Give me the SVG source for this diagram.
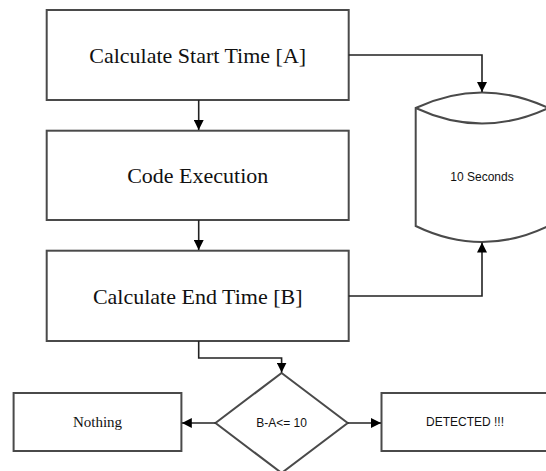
<svg xmlns="http://www.w3.org/2000/svg" width="546" height="471" viewBox="0 0 546 471">
<defs>
<marker id="arr" viewBox="0 0 10 10" refX="10" refY="5" markerWidth="10" markerHeight="10" markerUnits="userSpaceOnUse" orient="auto">
<path d="M0,0 L10,5 L0,10 Z" fill="#000"/>
</marker>
</defs>
<style>
.box{fill:#fff;stroke:#4a4a4a;stroke-width:2}
.big{font-family:"Liberation Serif",serif;font-size:22px;fill:#111;text-anchor:middle;dominant-baseline:central}
.ser{font-family:"Liberation Serif",serif;font-size:15px;fill:#111;text-anchor:middle;dominant-baseline:central}
.sm{font-family:"Liberation Sans",sans-serif;font-size:12px;fill:#111;text-anchor:middle;dominant-baseline:central}
.con{fill:none;stroke:#222;stroke-width:1.6;marker-end:url(#arr)}
</style>
<rect width="546" height="471" fill="#fff"/>
<g id="start">
<rect class="box" x="46.7" y="10" width="302" height="90"/>
<text class="big" x="197.7" y="55">Calculate Start Time [A]</text>
</g>
<g id="exec">
<rect class="box" x="46.7" y="130.7" width="302" height="89.3"/>
<text class="big" x="197.7" y="175">Code Execution</text>
</g>
<g id="end">
<rect class="box" x="46.7" y="250.7" width="302" height="90.3"/>
<text class="big" x="197.7" y="296">Calculate End Time [B]</text>
</g>
<g id="store">
<path class="box" d="M415.7,108 Q482,77 548.3,108 L548.3,226 Q482,258 415.7,226 Z"/>
<path fill="none" stroke="#4a4a4a" stroke-width="2" d="M415.7,108 Q482,139 548.3,108"/>
<text class="sm" x="482" y="177">10 Seconds</text>
</g>
<g id="decision">
<polygon class="box" points="281.6,373 347.7,423 281.6,473 215.5,423"/>
<text class="sm" x="281.6" y="423">B-A&lt;= 10</text>
</g>
<g id="nothing">
<rect class="box" x="13.6" y="393" width="167.8" height="58"/>
<text class="ser" x="97.5" y="422">Nothing</text>
</g>
<g id="detected">
<rect class="box" x="381.5" y="393" width="170" height="58"/>
<text class="sm" x="465" y="422">DETECTED !!!</text>
</g>
<g id="connectors">
<path class="con" d="M198.7,100 L198.7,130"/>
<path class="con" d="M198.7,220 L198.7,250"/>
<path class="con" d="M348.7,55 L482,55 L482,92"/>
<path class="con" d="M348.7,296 L482,296 L482,242.5"/>
<path class="con" d="M198.7,341 L198.7,358 L281.6,358 L281.6,372.5"/>
<path class="con" d="M215.5,423 L181.8,423"/>
<path class="con" d="M347.7,423 L381,423"/>
</g>
</svg>
